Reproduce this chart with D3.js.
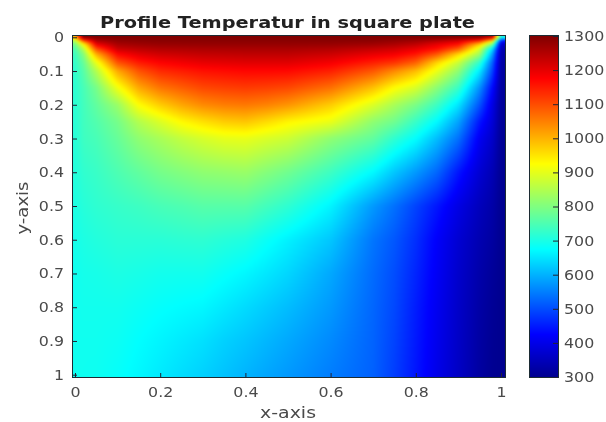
<!DOCTYPE html>
<html><head><meta charset="utf-8">
<script src="https://cdn.jsdelivr.net/npm/d3@7"></script>
<style>html,body{margin:0;padding:0;background:#fff}#w{position:relative;width:606px;height:422px;overflow:hidden}
canvas,svg{position:absolute;left:0;top:0}text{font-family:"DejaVu Sans",sans-serif}</style></head>
<body><div id="w"><canvas id="c" width="606" height="422"></canvas><svg id="s" width="606" height="422"></svg></div>
<script>
const titleText = "Profile Temperatur in square plate";
const xLabel = "x-axis", yLabel = "y-axis";
const xTicks = [0,0.2,0.4,0.6,0.8,1];
const yTicks = [0,0.1,0.2,0.3,0.4,0.5,0.6,0.7,0.8,0.9,1];
const cTicks = [300,400,500,600,700,800,900,1000,1100,1200,1300];
const jetStops = [300,425,675,925,1175,1300];
const jetColors = ["#00008f","#0000ff","#00ffff","#ffff00","#ff0000","#800000"];
// sample positions of the temperature readings
const gridX = [0,.02,.05,.1,.15,.2,.25,.3,.35,.4,.45,.5,.6,.7,.75,.8,.85,.9,.95,.98,1];
const gridY = [0,.01,.02,.035,.05,.075,.1,.15,.2,.25,.3,.4,.5,.6,.7,.8,.9,1];
// one array per x position, top to bottom
const t000=[1000,850,790,750,735,725,720,718,716,714,712,708,702,695,690,690,690,690];
const t002=[1300,1100,930,850,805,775,760,745,740,738,735,722,712,702,695,692,690,689];
const t005=[1300,1255,1195,1095,1005,905,850,790,770,755,745,730,720,708,697,692,690,688];
const t010=[1300,1283,1262,1225,1170,1095,1010,910,825,790,775,750,728,715,702,692,686,680];
const t015=[1300,1288,1272,1240,1205,1150,1095,1010,925,850,815,770,735,715,698,685,675,668];
const t020=[1300,1290,1278,1250,1222,1175,1135,1060,975,890,840,790,745,715,693,678,665,655];
const t025=[1300,1290,1279,1253,1228,1187,1148,1083,1012,930,865,803,752,718,692,673,655,642];
const t030=[1300,1290,1280,1256,1234,1198,1160,1105,1040,955,885,815,760,720,692,668,645,630];
const t035=[1300,1290,1280,1257,1236,1202,1165,1113,1053,975,900,820,760,712,680,654,630,616];
const t040=[1300,1290,1280,1258,1238,1205,1170,1118,1058,982,903,825,760,705,668,640,618,602];
const t045=[1300,1290,1280,1258,1238,1205,1170,1113,1048,960,888,805,740,683,652,625,604,588];
const t050=[1300,1290,1280,1258,1238,1205,1168,1105,1030,935,875,785,720,662,635,610,590,575];
const t060=[1300,1290,1278,1250,1225,1185,1145,1065,975,905,815,735,665,620,590,575,560,548];
const t070=[1300,1288,1270,1232,1198,1145,1090,985,890,815,770,670,575,540,530,525,522,520];
const t075=[1300,1280,1258,1220,1185,1125,1040,925,840,785,720,620,535,510,500,495,490,485];
const t080=[1300,1270,1240,1195,1155,1080,990,885,795,730,675,575,490,470,460,452,448,445];
const t085=[1300,1250,1200,1160,1090,965,905,810,735,670,610,525,445,420,414,408,404,400];
const t090=[1300,1220,1165,1080,965,870,815,730,650,585,535,445,395,375,368,364,362,360];
const t095=[1300,1145,985,880,830,720,655,565,505,445,410,375,350,338,330,325,322,320];
const t098=[1250,960,800,640,580,520,490,430,395,380,365,342,328,320,312,308,305,303];
const t100=[700,450,370,340,330,325,320,315,312,310,308,305,303,302,301,300,300,300];
const columns=[t000,t002,t005,t010,t015,t020,t025,t030,t035,t040,t045,t050,t060,t070,t075,t080,t085,t090,t095,t098,t100];

const x=d3.scaleLinear().domain([0,1]).range([75,501]);
const y=d3.scaleLinear().domain([0,1]).range([37.3,374.7]);
const cy=d3.scaleLinear().domain([300,1300]).range([377,36]);
const jet=d3.scaleLinear().domain(jetStops).range(jetColors).clamp(true);
const ix=d3.scaleLinear().domain(gridX).range(d3.range(gridX.length)).clamp(true);
const iy=d3.scaleLinear().domain(gridY).range(d3.range(gridY.length)).clamp(true);
const L=73,R=505,T=36,B=377,CL=530,CR=558;
const ctx=document.getElementById("c").getContext("2d");
function val(fx,fy){
  const a=Math.min(Math.floor(fx),gridX.length-2),b=Math.min(Math.floor(fy),gridY.length-2);
  const u=fx-a,v=fy-b;
  return (1-u)*((1-v)*columns[a][b]+v*columns[a][b+1])+u*((1-v)*columns[a+1][b]+v*columns[a+1][b+1]);
}
for(let px=L;px<R;px++)for(let py=T;py<B;py++){
  ctx.fillStyle=jet(val(ix(x.invert(px+.5)),iy(y.invert(py+.5))));
  ctx.fillRect(px,py,1,1);
}
// slight softening, as the reference is a soft photograph
const soft=document.createElement("canvas");soft.width=606;soft.height=422;
const sc=soft.getContext("2d");sc.filter="blur(1.5px)";sc.drawImage(ctx.canvas,0,0);
ctx.drawImage(soft,L,T,R-L,B-T,L,T,R-L,B-T);
for(let py=T;py<B;py++){ctx.fillStyle=jet(cy.invert(py+.5));ctx.fillRect(CL,py,CR-CL,1);}

const svg=d3.select("#s");
const ink="#4a4a4a";
svg.append("rect").attr("x",L-.5).attr("y",T-.5).attr("width",R-L+1).attr("height",B-T+1).attr("fill","none").attr("stroke","#1c2b33");
svg.append("rect").attr("x",CL-.5).attr("y",T-.5).attr("width",CR-CL+1).attr("height",B-T+1).attr("fill","none").attr("stroke","#1c2b33");
const stretch=(sel,k)=>sel.each(function(){const w=this.getComputedTextLength();d3.select(this).attr("textLength",w*k).attr("lengthAdjust","spacingAndGlyphs");});
const tick=(g)=>{g.select(".domain").remove();g.selectAll("line").attr("stroke","#223");g.selectAll("text").attr("fill",ink).attr("font-size",14).call(stretch,1.13);};
svg.append("g").attr("transform",`translate(${L},0)`).call(d3.axisLeft(y).tickValues(yTicks).tickFormat(d3.format("~g")).tickSize(-4).tickPadding(9)).call(tick);
svg.append("g").attr("transform",`translate(0,${B})`).call(d3.axisBottom(x).tickValues(xTicks).tickFormat(d3.format("~g")).tickSize(-4).tickPadding(10)).call(tick);
svg.append("g").attr("transform",`translate(${CR},0)`).call(d3.axisRight(cy).tickValues(cTicks).tickFormat(d3.format("d")).tickSize(-5).tickPadding(6)).call(tick);
svg.append("text").attr("x",287.5).attr("y",28).attr("text-anchor","middle").attr("font-size",15).attr("font-weight","bold").attr("fill","#222").attr("textLength",375).attr("lengthAdjust","spacingAndGlyphs").text(titleText);
svg.append("text").attr("x",288).attr("y",418).attr("text-anchor","middle").attr("font-size",15).attr("fill",ink).attr("textLength",56).attr("lengthAdjust","spacingAndGlyphs").text(xLabel);
svg.append("text").attr("transform","translate(28,208) rotate(-90)").attr("text-anchor","middle").attr("font-size",15).attr("fill",ink).attr("textLength",53).attr("lengthAdjust","spacingAndGlyphs").text(yLabel);
</script></body></html>
